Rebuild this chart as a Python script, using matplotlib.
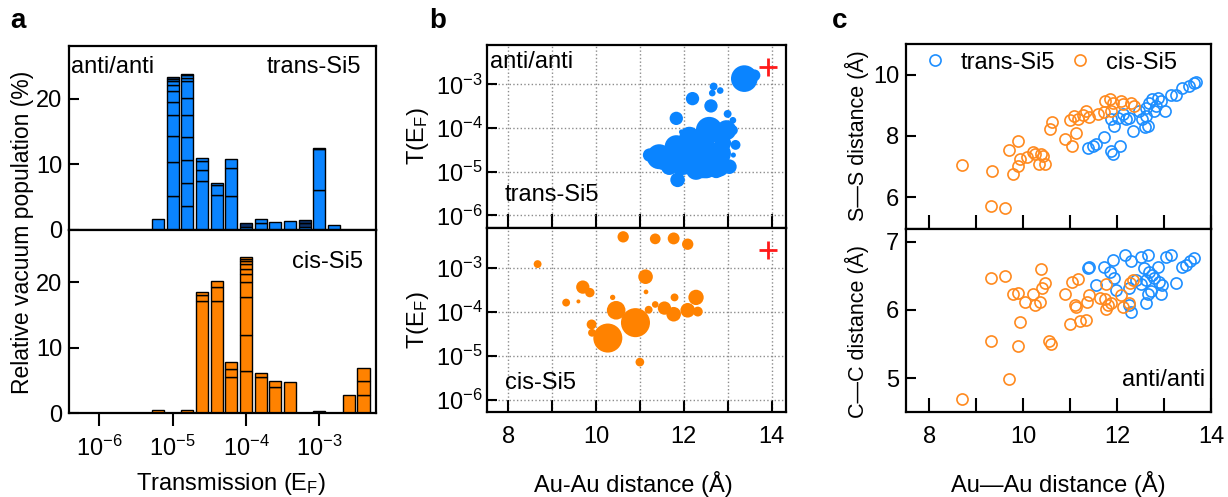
import matplotlib.pyplot as plt
import numpy as np
from matplotlib.ticker import NullLocator, MultipleLocator, FixedLocator

plt.rcParams['font.family'] = ['Liberation Sans', 'DejaVu Sans']
plt.rcParams['mathtext.fontset'] = 'custom'
plt.rcParams['mathtext.rm'] = 'Liberation Sans'
plt.rcParams['mathtext.it'] = 'Liberation Sans:italic'
plt.rcParams['font.size'] = 17

FS = 17
BLUE = '#0A84FF'
ORANGE = '#FF8200'
DARK_BLUE = '#0B2F66'
DARK_ORANGE = '#5A2C00'
C_BLUE = '#1E8FFF'
C_ORANGE = '#FF8A1F'

# --- panel a: stacked histograms (bin centres in log10 T, stacked segments in %)
trans_centres = [-5.2, -5.0, -4.8, -4.6, -4.4, -4.2, -4.0, -3.8, -3.6, -3.4, -3.2, -3.0, -2.8]
trans_segments = [
    [1.7],
    [5.2, 5.1, 4.0, 3.2, 2.0, 1.6, 1.0, 0.56, 0.36, 0.3],
    [3.6, 3.6, 3.5, 3.5, 3.3, 2.6, 2.6, 0.46, 0.4, 0.25],
    [7.4, 1.7, 1.4, 0.4],
    [5.4, 1.4, 0.4],
    [5.1, 4.3, 1.4],
    [0.5, 0.5],
    [1.1, 0.56],
    [1.2],
    [1.4],
    [0.5, 0.6, 0.4],
    [6.1, 6.2, 0.25],
    [0.8],
]
trans_dark = {-4.0: [1], -3.2: [1, 2], -3.0: [2], -5.0: [9]}

cis_centres = [-5.2, -4.8, -4.6, -4.4, -4.2, -4.0, -3.8, -3.6, -3.4, -3.0, -2.6, -2.4]
cis_segments = [
    [0.46],
    [0.46],
    [17.1, 0.97, 0.4],
    [17.1, 2.2, 0.9],
    [5.5, 1.2, 1.1],
    [6.4, 5.6, 5.7, 2.3, 1.3, 0.77, 0.67, 0.46, 0.4, 0.3],
    [5.5, 0.67],
    [4.0, 0.87],
    [4.7],
    [0.26],
    [2.8],
    [2.8, 2.05, 2.1],
]
cis_dark = {-3.0: [0]}

# --- panel b: T(E_F) vs Au-Au distance, bubble area ~ population weight
trans_au = [13.38, 13.61, 12.20, 12.62, 12.68, 12.83, 12.65, 11.83, 11.95, 13.00,
            13.12, 12.58, 13.12, 13.18, 13.13, 11.44, 11.22, 11.86, 12.17, 12.43,
            12.74, 11.98, 11.67, 12.89, 12.28, 12.51, 12.81, 11.52,
            11.83, 12.13, 12.40, 12.81, 12.97, 12.74, 13.04, 11.75]
trans_T = [1.35e-3, 1.6e-3, 4.7e-4, 3.2e-4, 8.9e-4, 7.2e-4, 6.3e-4, 1.66e-4, 8.1e-5, 2.1e-4,
           1.5e-4, 8.9e-5, 8.9e-5, 4.1e-5, 2.4e-5, 2.2e-5, 2.4e-5, 6.5e-6, 3.7e-5, 1.55e-5,
           1.7e-5, 1.55e-5, 1.3e-5, 4.5e-5, 1.1e-5, 1.3e-5, 1.3e-5, 1.7e-5,
           3.7e-5, 6.3e-5, 3.2e-5, 2.6e-5, 8.9e-5, 1.1e-5, 1.3e-5, 1.55e-5]
trans_weight = [16.0, 3.2, 4.0, 4.0, 1.4, 1.0, 1.0, 4.0, 0.6, 1.4,
                1.0, 16.0, 2.2, 2.2, 0.6, 14.0, 4.0, 4.8, 16.0, 20.0,
                16.0, 12.2, 6.2, 6.2, 9.0, 12.2, 9.0, 6.2,
                12.2, 9.0, 20.0, 12.2, 9.0, 6.2, 4.8, 9.0]

cis_au = [10.62, 11.35, 11.77, 12.09, 8.67, 11.13, 11.14, 9.70, 9.86, 9.32,
          9.60, 10.38, 10.46, 10.90, 10.27, 9.90, 9.91, 11.20, 11.35, 11.56,
          11.77, 11.79, 12.09, 12.28, 12.32, 11.00]
cis_T = [5.0e-3, 4.5e-3, 4.6e-3, 3.4e-3, 1.2e-3, 6.2e-4, 2.8e-4, 3.6e-4, 2.7e-4, 1.6e-4,
         1.7e-4, 2.1e-4, 1.07e-4, 5.6e-5, 2.5e-5, 5.1e-5, 3.3e-5, 1.1e-4, 1.45e-4, 1.2e-4,
         8.7e-5, 2.1e-4, 1.07e-4, 2.1e-4, 1.0e-4, 7.1e-6]
cis_weight = [2.9, 2.6, 3.2, 2.9, 1.4, 4.8, 0.5, 4.0, 2.0, 1.4,
              0.36, 0.64, 7.8, 19.0, 19.0, 2.2, 1.4, 1.4, 1.0, 4.0,
              4.8, 1.4, 4.8, 5.3, 2.2, 1.7]

ref_au = [13.93]
ref_T = [2.45e-3]

# --- panel c: S-S and C-C distances vs Au-Au distance
cis_ss_au = [8.70, 9.33, 9.32, 9.60, 9.70, 9.88, 9.79, 9.88, 9.93, 10.07,
             10.21, 10.25, 10.37, 10.43, 10.46, 10.34, 10.57, 10.62, 10.88, 11.03,
             11.13, 10.99, 11.07, 11.16, 11.27, 11.34, 11.40, 11.59, 11.73, 11.75,
             11.84, 11.91, 11.86, 12.08, 12.12, 12.30, 12.35]
cis_ss = [7.05, 6.86, 5.71, 5.64, 7.55, 7.84, 6.76, 7.03, 7.24, 7.32,
          7.46, 7.41, 7.41, 7.35, 7.08, 7.08, 8.22, 8.45, 7.89, 7.68,
          8.11, 8.52, 8.65, 8.54, 8.67, 8.81, 8.63, 8.70, 8.78, 9.14,
          9.19, 9.06, 8.81, 9.14, 9.03, 9.06, 8.97]
trans_ss_au = [11.38, 11.48, 11.55, 11.73, 11.87, 11.91, 12.05, 11.94, 11.87, 12.01,
               12.12, 12.19, 12.26, 12.33, 12.54, 12.60, 12.65, 12.47, 12.61, 12.68,
               12.75, 12.86, 12.93, 13.02, 13.14, 13.25, 13.39, 13.53, 13.64, 13.67,
               12.82, 12.61, 12.79]
trans_ss = [7.62, 7.68, 7.73, 7.95, 7.51, 7.40, 7.68, 8.32, 8.54, 8.59,
            8.70, 8.54, 8.59, 8.16, 8.54, 8.29, 8.32, 8.81, 8.92, 9.08,
            9.19, 9.24, 9.14, 8.81, 9.35, 9.35, 9.57, 9.64, 9.73, 9.75,
            8.97, 8.65, 8.81]

cis_cc_au = [8.70, 9.70, 9.32, 9.88, 9.92, 9.31, 9.60, 9.78, 9.88, 10.04,
             10.21, 10.25, 10.37, 10.46, 10.39, 10.36, 10.55, 10.60, 10.88, 11.03,
             11.17, 11.00, 11.10, 11.13, 11.20, 11.34, 11.35, 11.41, 11.63, 11.77,
             11.75, 11.80, 11.77, 11.87, 12.08, 12.12, 12.28, 12.33, 12.26]
cis_cc = [4.70, 4.99, 5.55, 5.48, 5.83, 6.47, 6.49, 6.24, 6.25, 6.11,
          6.24, 6.07, 6.60, 6.40, 6.32, 6.12, 5.55, 5.51, 6.23, 6.41,
          6.45, 5.80, 6.08, 6.05, 5.84, 5.85, 6.11, 6.22, 6.17, 6.38,
          6.16, 6.07, 6.01, 6.10, 6.22, 6.05, 6.39, 6.44, 6.10]
trans_cc_au = [11.38, 11.41, 11.55, 11.73, 11.84, 11.91, 11.94, 11.98, 12.16, 12.26,
               12.30, 12.26, 12.30, 12.40, 12.51, 12.58, 12.65, 12.61, 12.68, 12.65,
               12.61, 12.72, 12.79, 12.86, 12.89, 12.93, 12.96, 13.04, 13.14, 13.25,
               13.39, 13.46, 13.56, 13.63, 12.75, 12.51]
trans_cc = [6.61, 6.63, 6.37, 6.63, 6.56, 6.73, 6.46, 6.29, 6.81, 6.32,
            6.71, 6.07, 5.97, 6.44, 6.78, 6.61, 6.80, 6.44, 6.56, 6.24,
            6.10, 6.27, 6.46, 6.63, 6.41, 6.24, 6.37, 6.78, 6.80, 6.39,
            6.63, 6.66, 6.71, 6.76, 6.51, 6.38]


def draw_hist(ax, centres, segments, color, dark, dark_color):
    half = 0.082
    for c, segs in zip(centres, segments):
        left = 10 ** (c - half)
        width = 10 ** (c + half) - left
        bottom = 0
        for i, h in enumerate(segs):
            fc = dark_color if i in dark.get(c, []) else color
            ax.bar(left, h, width, bottom=bottom, align='edge', color=fc,
                   edgecolor='black', linewidth=1.0)
            bottom += h


def style_spines(ax):
    for s in ax.spines.values():
        s.set_linewidth(1.6)


fig = plt.figure(figsize=(12.28, 4.97), dpi=100)
W, H = 1228, 497


def add_ax(l, t, r, b):
    return fig.add_axes([l / W, 1 - b / H, (r - l) / W, (b - t) / H])


# ---------------- panel a
a1 = add_ax(69, 46, 376, 230)
a2 = add_ax(69, 230, 376, 413)
draw_hist(a1, trans_centres, trans_segments, BLUE, trans_dark, DARK_BLUE)
draw_hist(a2, cis_centres, cis_segments, ORANGE, cis_dark, DARK_ORANGE)
for ax in (a1, a2):
    ax.set_xscale('log')
    ax.set_xlim(10 ** -6.41, 10 ** -2.23)
    ax.set_ylim(0, 28)
    ax.xaxis.set_major_locator(FixedLocator([1e-6, 1e-5, 1e-4, 1e-3]))
    ax.xaxis.set_minor_locator(NullLocator())
    ax.yaxis.set_major_locator(FixedLocator([0, 10, 20]))
    ax.tick_params(axis='x', direction='out', length=9.5, width=1.5, pad=7, labelsize=FS)
    ax.tick_params(axis='y', direction='in', length=7, width=1.5, pad=5, labelsize=FS)
    style_spines(ax)
a1.tick_params(axis='x', labelbottom=False)
a1.text(0.006, 0.886, 'anti/anti', transform=a1.transAxes, ha='left', va='center', fontsize=FS)
a1.text(0.951, 0.886, 'trans-Si5', transform=a1.transAxes, ha='right', va='center', fontsize=FS)
a2.text(0.958, 0.825, 'cis-Si5', transform=a2.transAxes, ha='right', va='center', fontsize=FS)
fig.text(23 / W, 1 - 232 / H, 'Relative vacuum population (%)', rotation=90,
         ha='center', va='center', fontsize=16.5)
fig.text(231 / W, 1 - 484 / H, 'Transmission (E$_\\mathregular{F}$)', ha='center', va='center', fontsize=FS)

# ---------------- panel b
b1 = add_ax(486.7, 45, 786, 228)
b2 = add_ax(486.7, 228, 786, 412.3)
b1.scatter(trans_au, trans_T, s=[23 * w for w in trans_weight], color=BLUE,
           edgecolors='none', zorder=3)
b2.scatter(cis_au, cis_T, s=[23 * w for w in cis_weight], color=ORANGE,
           edgecolors='none', zorder=3)
for ax in (b1, b2):
    ax.plot(ref_au, ref_T, '+', color='#FF1A1A', ms=13, mew=2, zorder=4)
    ax.set_yscale('log')
    ax.set_xlim(7.51, 14.33)
    ax.set_ylim(10 ** -6.29, 10 ** -2.1)
    ax.xaxis.set_major_locator(MultipleLocator(2))
    ax.xaxis.set_minor_locator(MultipleLocator(1))
    ax.yaxis.set_major_locator(FixedLocator([1e-6, 1e-5, 1e-4, 1e-3]))
    ax.yaxis.set_minor_locator(NullLocator())
    ax.grid(which='both', linestyle=':', color='#8c8c8c', linewidth=1.0)
    ax.set_axisbelow(True)
    ax.tick_params(axis='y', direction='in', length=7, width=1.5, pad=3, labelsize=FS)
    ax.tick_params(axis='x', which='both', direction='in', length=9, width=1.5, pad=10, labelsize=FS)
    style_spines(ax)
    ax.set_ylabel('T(E$_\\mathregular{F}$)', fontsize=FS)
    ax.yaxis.set_label_coords(-0.185, 0.5)
b1.tick_params(axis='x', which='both', direction='inout', length=20, labelbottom=False)
b1.text(0.011, 0.907, 'anti/anti', transform=b1.transAxes, ha='left', va='center', fontsize=FS)
b1.text(0.061, 0.18, 'trans-Si5', transform=b1.transAxes, ha='left', va='center', fontsize=FS)
b2.text(0.061, 0.16, 'cis-Si5', transform=b2.transAxes, ha='left', va='center', fontsize=FS)
fig.text(633 / W, 1 - 484 / H, 'Au-Au distance (Å)', ha='center', va='center', fontsize=FS)

# ---------------- panel c
c1 = add_ax(906, 44, 1211, 228.5)
c2 = add_ax(906, 228.5, 1211, 412)
mk = dict(marker='o', linestyle='none', mfc='none', ms=8, mew=1.2)
c1.plot(trans_ss_au, trans_ss, mec=C_BLUE, label='trans-Si5', **mk)
c1.plot(cis_ss_au, cis_ss, mec=C_ORANGE, label='cis-Si5', **mk)
c2.plot(trans_cc_au, trans_cc, mec=C_BLUE, **mk)
c2.plot(cis_cc_au, cis_cc, mec=C_ORANGE, **mk)
c1.set_ylim(4.98, 11.0)
c1.yaxis.set_major_locator(FixedLocator([6, 8, 10]))
c2.set_ylim(4.51, 7.19)
c2.yaxis.set_major_locator(FixedLocator([5, 6, 7]))
for ax in (c1, c2):
    ax.set_xlim(7.5, 14.0)
    ax.xaxis.set_major_locator(MultipleLocator(2))
    ax.xaxis.set_minor_locator(MultipleLocator(1))
    ax.tick_params(axis='y', direction='in', length=7, width=1.5, pad=5, labelsize=FS)
    ax.tick_params(axis='x', which='both', direction='in', length=10, width=1.5, pad=10, labelsize=FS)
    style_spines(ax)
c1.tick_params(axis='x', labelbottom=False)
c1.legend(loc='upper left', ncol=2, frameon=False, fontsize=FS, handletextpad=0.6,
          columnspacing=0.55, borderaxespad=0.0, bbox_to_anchor=(0.025, 1.01), handlelength=1.0)
fig.text(857 / W, 1 - 136 / H, 'S—S distance (Å)', rotation=90, ha='center', va='center', fontsize=15.5)
fig.text(857 / W, 1 - 331 / H, 'C—C distance (Å)', rotation=90, ha='center', va='center', fontsize=15.5)
c2.text(0.98, 0.174, 'anti/anti', transform=c2.transAxes, ha='right', va='center', fontsize=FS)
fig.text(1058 / W, 1 - 484 / H, 'Au—Au distance (Å)', ha='center', va='center', fontsize=FS)

# panel letters
for x, lab in [(10, 'a'), (429, 'b'), (832, 'c')]:
    fig.text(x / W, 1 - 21 / H, lab, fontsize=20, fontweight='bold', ha='left', va='center')

fig.savefig('out.png', dpi=100)
